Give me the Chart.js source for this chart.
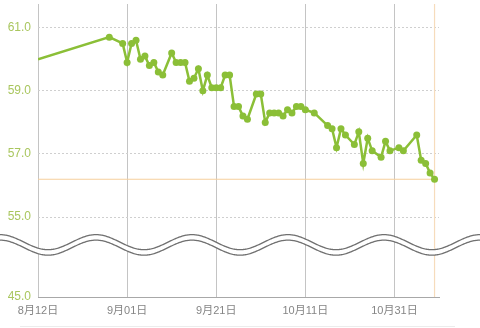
<!DOCTYPE html>
<html>
<head>
<meta charset="utf-8">
<script src="https://cdn.jsdelivr.net/npm/chart.js@4.4.0/dist/chart.umd.min.js"></script>
<style>
  html, body { margin: 0; padding: 0; background: #fff; }
  #wrap { width: 480px; height: 328px; position: relative; }
</style>
</head>
<body>
<div id="wrap"><canvas id="weightChart"></canvas></div>
<script>
const year = 2023;
const startDate = '08-12';

const dates = [
  '08-12', '08-28', '08-31', '09-01', '09-02', '09-03', '09-04', '09-05', '09-06', '09-07',
  '09-08', '09-09', '09-11', '09-12', '09-13', '09-14', '09-15', '09-16', '09-17', '09-18',
  '09-19', '09-20', '09-21', '09-22', '09-23', '09-24', '09-25', '09-26', '09-27', '09-28',
  '09-30', '10-01', '10-02', '10-03', '10-04', '10-05', '10-06', '10-07', '10-08', '10-09',
  '10-10', '10-11', '10-13', '10-16', '10-17', '10-18', '10-19', '10-20', '10-22', '10-23',
  '10-24', '10-25', '10-26', '10-28', '10-29', '10-30', '11-01', '11-02', '11-05', '11-06',
  '11-07', '11-08', '11-09'
];

const weights = [
  60.0, 60.7, 60.5, 59.9, 60.5, 60.6, 60.0, 60.1, 59.8, 59.9,
  59.6, 59.5, 60.2, 59.9, 59.9, 59.9, 59.3, 59.4, 59.7, 59.0,
  59.5, 59.1, 59.1, 59.1, 59.5, 59.5, 58.5, 58.5, 58.2, 58.1,
  58.9, 58.9, 58.0, 58.3, 58.3, 58.3, 58.2, 58.4, 58.3, 58.5,
  58.5, 58.4, 58.3, 57.9, 57.8, 57.2, 57.8, 57.6, 57.3, 57.7,
  56.7, 57.5, 57.1, 56.9, 57.4, 57.1, 57.2, 57.1, 57.6, 56.8,
  56.7, 56.4, 56.2
];

const goalWeight = 56.2;

const xTickDays = [0, 20, 40, 60, 80];
const xTickLabels = ['8月12日', '9月01日', '9月21日', '10月11日', '10月31日'];

// y axis is broken: 45.0 sits at the bottom of a compressed range
const yTickValues = [45, 55, 57, 59, 61];
const yBottom = 52.47;   // where 45.0 is drawn
const yTop = 61.75;
const breakCenter = 54.12;

function dayOf(md) {
  const [m, d] = md.split('-').map(Number);
  const [sm, sd] = startDate.split('-').map(Number);
  return Math.round((Date.UTC(year, m - 1, d) - Date.UTC(year, sm - 1, sd)) / 86400000);
}

const points = dates.map((d, i) => ({ x: dayOf(d), y: weights[i] }));
const lastDay = dayOf(dates[dates.length - 1]);

const breakPlugin = {
  id: 'axisBreak',
  afterDraw(chart) {
    const c = chart.ctx;
    const w = chart.width;
    const cy = chart.scales.y.getPixelForValue(breakCenter);
    const amp = 7.5, gap = 5.5, period = 96;
    const wave = (x, off) => cy + off - amp * Math.cos(2 * Math.PI * x / period);
    c.save();
    c.beginPath();
    for (let x = 0; x <= w; x++) c.lineTo(x, wave(x, -gap / 2));
    for (let x = w; x >= 0; x--) c.lineTo(x, wave(x, gap / 2));
    c.closePath();
    c.fillStyle = '#fff';
    c.fill();
    c.strokeStyle = '#707070';
    c.lineWidth = 1.3;
    [-gap / 2, gap / 2].forEach(off => {
      c.beginPath();
      for (let x = 0; x <= w; x++) c.lineTo(x, wave(x, off));
      c.stroke();
    });
    // faint separator at the bottom
    c.strokeStyle = '#ececec';
    c.lineWidth = 1;
    c.beginPath();
    c.moveTo(20, 326.5);
    c.lineTo(455, 326.5);
    c.stroke();
    c.restore();
  }
};

const font = "'Liberation Sans', 'Noto Sans CJK JP', sans-serif";

new Chart(document.getElementById('weightChart'), {
  type: 'line',
  data: {
    datasets: [
      {
        label: '体重',
        data: points,
        borderColor: '#8bbf37',
        backgroundColor: '#8bbf37',
        borderWidth: 2.5,
        pointRadius: ctx => ctx.dataIndex === 0 ? 0 : 3.5,
        pointBorderWidth: 0,
        tension: 0,
      },
      {
        label: '目標',
        data: [{ x: 0, y: goalWeight }, { x: lastDay, y: goalWeight }],
        borderColor: '#f6cf9c',
        borderWidth: 1.2,
        pointRadius: 0,
      },
      {
        label: '今日',
        data: [{ x: lastDay, y: yBottom }, { x: lastDay, y: yTop }],
        borderColor: '#f6dcbc',
        borderWidth: 1.2,
        pointRadius: 0,
      }
    ]
  },
  options: {
    responsive: true,
    maintainAspectRatio: false,
    animation: false,
    layout: { padding: { left: 0, right: 41, top: 0, bottom: 0 } },
    plugins: {
      legend: { display: false },
      tooltip: { enabled: false },
    },
    scales: {
      x: {
        type: 'linear',
        min: 0,
        max: 90,
        afterBuildTicks: s => { s.ticks = xTickDays.map(v => ({ value: v })); },
        afterFit: s => { s.height = 31; s.paddingLeft = 0; s.paddingRight = 0; },
        ticks: {
          autoSkip: false,
          maxRotation: 0,
          padding: 7,
          font: { family: font, size: 11 },
          color: '#858585',
          callback: v => xTickLabels[xTickDays.indexOf(v)],
        },
        grid: { color: '#c4c4c4', lineWidth: 1, drawTicks: false },
        border: { color: '#a8a8a8', width: 1 },
      },
      y: {
        min: yBottom,
        max: yTop,
        afterBuildTicks: s => {
          s.ticks = yTickValues.map(v => ({ value: v === 45 ? yBottom : v }));
        },
        afterFit: s => { s.width = 38; s.paddingTop = 0; s.paddingBottom = 0; },
        ticks: {
          padding: 7,
          font: { family: font, size: 12 },
          color: '#a9c65e',
          callback: v => (v === yBottom ? 45 : v).toFixed(1),
        },
        grid: {
          color: ctx => ctx.tick && ctx.tick.value === yBottom ? 'rgba(0,0,0,0)' : '#cfcfcf',
          lineWidth: 1,
          drawTicks: false,
        },
        border: { display: false, dash: [2, 2] },
      }
    }
  },
  plugins: [breakPlugin]
});
</script>
</body>
</html>
